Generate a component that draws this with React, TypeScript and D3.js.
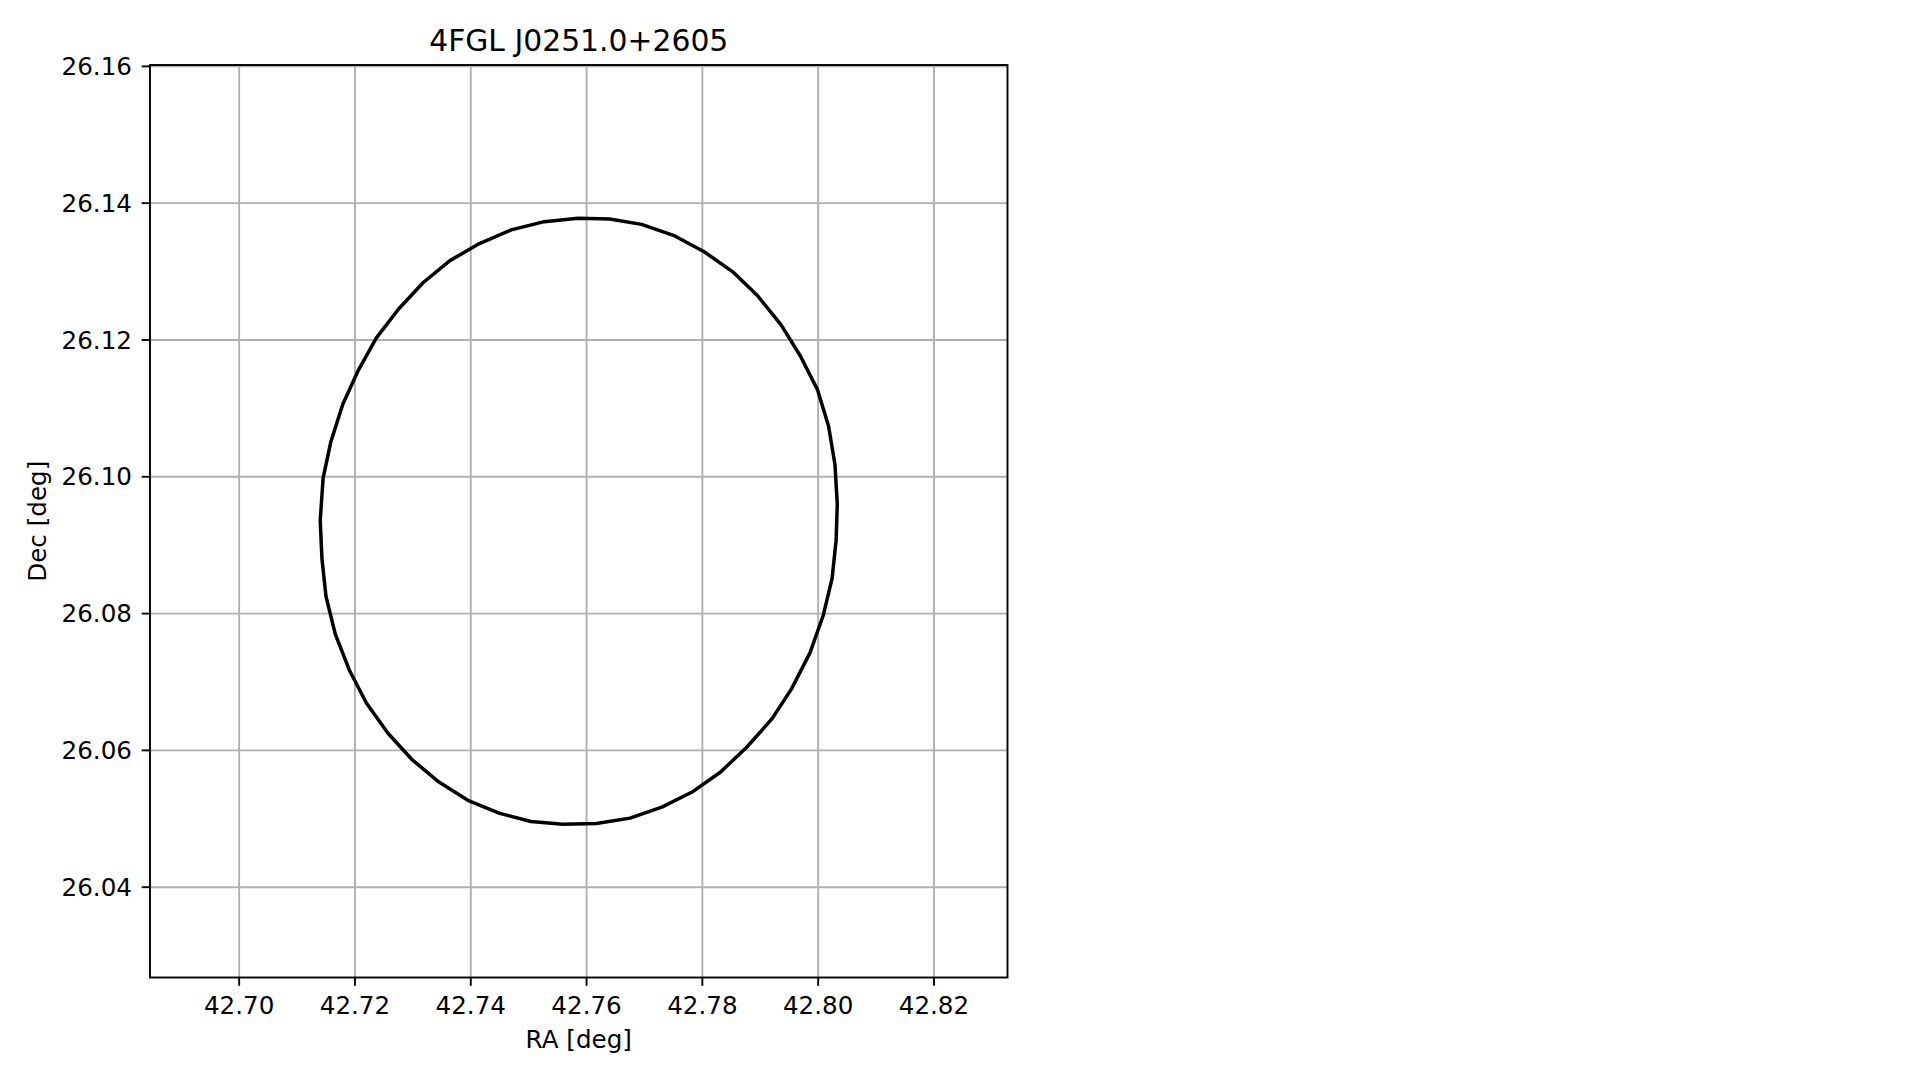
import React from "react";
import * as d3 from "d3";

const title = "4FGL J0251.0+2605";
const xLabel = "RA [deg]";
const yLabel = "Dec [deg]";

const xDomain = [42.6846, 42.8327];
const yDomain = [26.0268, 26.1602];

const xTicks = [42.7, 42.72, 42.74, 42.76, 42.78, 42.8, 42.82];
const yTicks = [26.04, 26.06, 26.08, 26.1, 26.12, 26.14, 26.16];

// error ellipse contour vertices (RA, Dec)
const ra = [
  42.7585, 42.7527, 42.747, 42.7415, 42.7364, 42.7318, 42.7275, 42.7237, 42.7206, 42.7179,
  42.7158, 42.7145, 42.714, 42.7143, 42.715, 42.7166, 42.7191, 42.722, 42.7257, 42.7298,
  42.7343, 42.7395, 42.745, 42.7504, 42.7559, 42.7617, 42.7675, 42.773, 42.7784, 42.7831,
  42.7877, 42.792, 42.7954, 42.7986, 42.8009, 42.8024, 42.8031, 42.8033, 42.8029, 42.8018,
  42.7999, 42.7969, 42.7936, 42.7895, 42.7852, 42.7803, 42.775, 42.7695, 42.764, 42.7585,
];
const dec = [
  26.1378, 26.1373, 26.1361, 26.1341, 26.1316, 26.1284, 26.1245, 26.1203, 26.1156, 26.1106,
  26.105, 26.0998, 26.0936, 26.088, 26.0825, 26.077, 26.0716, 26.0669, 26.0625, 26.0587,
  26.0555, 26.0527, 26.0508, 26.0496, 26.0492, 26.0493, 26.0501, 26.0517, 26.054, 26.0568,
  26.0605, 26.0646, 26.069, 26.0743, 26.0798, 26.0851, 26.0907, 26.096, 26.1018, 26.1074,
  26.1127, 26.1177, 26.1222, 26.1265, 26.13, 26.1329, 26.1353, 26.1369, 26.1377, 26.1378,
];

const W = 1919;
const H = 1080;
const L = 150;
const R = 1007.5;
const T = 65;
const B = 977.5;

const FONT = "DejaVu Sans, sans-serif";
const tickFs = 24.6;
const titleFs = 29.8;

export default function App() {
  const x = d3.scaleLinear().domain(xDomain).range([L, R]);
  const y = d3.scaleLinear().domain(yDomain).range([B, T]);
  const pts: [number, number][] = ra.map((r, i) => [r, dec[i]]);
  const line = d3
    .line<[number, number]>()
    .x((d) => x(d[0]))
    .y((d) => y(d[1]));
  const path = line(pts) || "";

  return (
    <svg
      width={W}
      height={H}
      style={{ position: "absolute", left: 0, top: 0, background: "#fff" }}
      fontFamily={FONT}
    >
      <rect x={0} y={0} width={W} height={H} fill="#fff" />
      <defs>
        <clipPath id="ax">
          <rect x={L} y={T} width={R - L} height={B - T} />
        </clipPath>
      </defs>
      {/* grid */}
      <g stroke="#b0b0b0" strokeWidth={1.9}>
        {xTicks.map((t) => (
          <line key={"gx" + t} x1={x(t)} x2={x(t)} y1={T} y2={B} />
        ))}
        {yTicks.map((t) => (
          <line key={"gy" + t} x1={L} x2={R} y1={y(t)} y2={y(t)} />
        ))}
      </g>
      {/* ellipse */}
      <path
        d={path}
        fill="none"
        stroke="#000"
        strokeWidth={3.5}
        strokeLinejoin="round"
        clipPath="url(#ax)"
      />
      {/* spines */}
      <rect x={L} y={T} width={R - L} height={B - T} fill="none" stroke="#000" strokeWidth={1.9} />
      {/* x ticks */}
      <g>
        {xTicks.map((t) => (
          <g key={"xt" + t}>
            <line x1={x(t)} x2={x(t)} y1={B} y2={B + 8.3} stroke="#000" strokeWidth={1.9} />
            <text x={x(t)} y={1013.5} textAnchor="middle" fontSize={tickFs} fill="#000">
              {d3.format(".2f")(t)}
            </text>
          </g>
        ))}
      </g>
      {/* y ticks */}
      <g>
        {yTicks.map((t) => (
          <g key={"yt" + t}>
            <line x1={L - 8.3} x2={L} y1={y(t)} y2={y(t)} stroke="#000" strokeWidth={1.9} />
            <text x={132} y={y(t)} dy="0.35em" textAnchor="end" fontSize={tickFs} fill="#000">
              {d3.format(".2f")(t)}
            </text>
          </g>
        ))}
      </g>
      <text x={(L + R) / 2} y={1048} textAnchor="middle" fontSize={tickFs} fill="#000">
        {xLabel}
      </text>
      <text
        transform={`translate(46,${(T + B) / 2}) rotate(-90)`}
        textAnchor="middle"
        fontSize={tickFs}
        fill="#000"
      >
        {yLabel}
      </text>
      <text x={(L + R) / 2} y={51} textAnchor="middle" fontSize={titleFs} fill="#000">
        {title}
      </text>
    </svg>
  );
}
